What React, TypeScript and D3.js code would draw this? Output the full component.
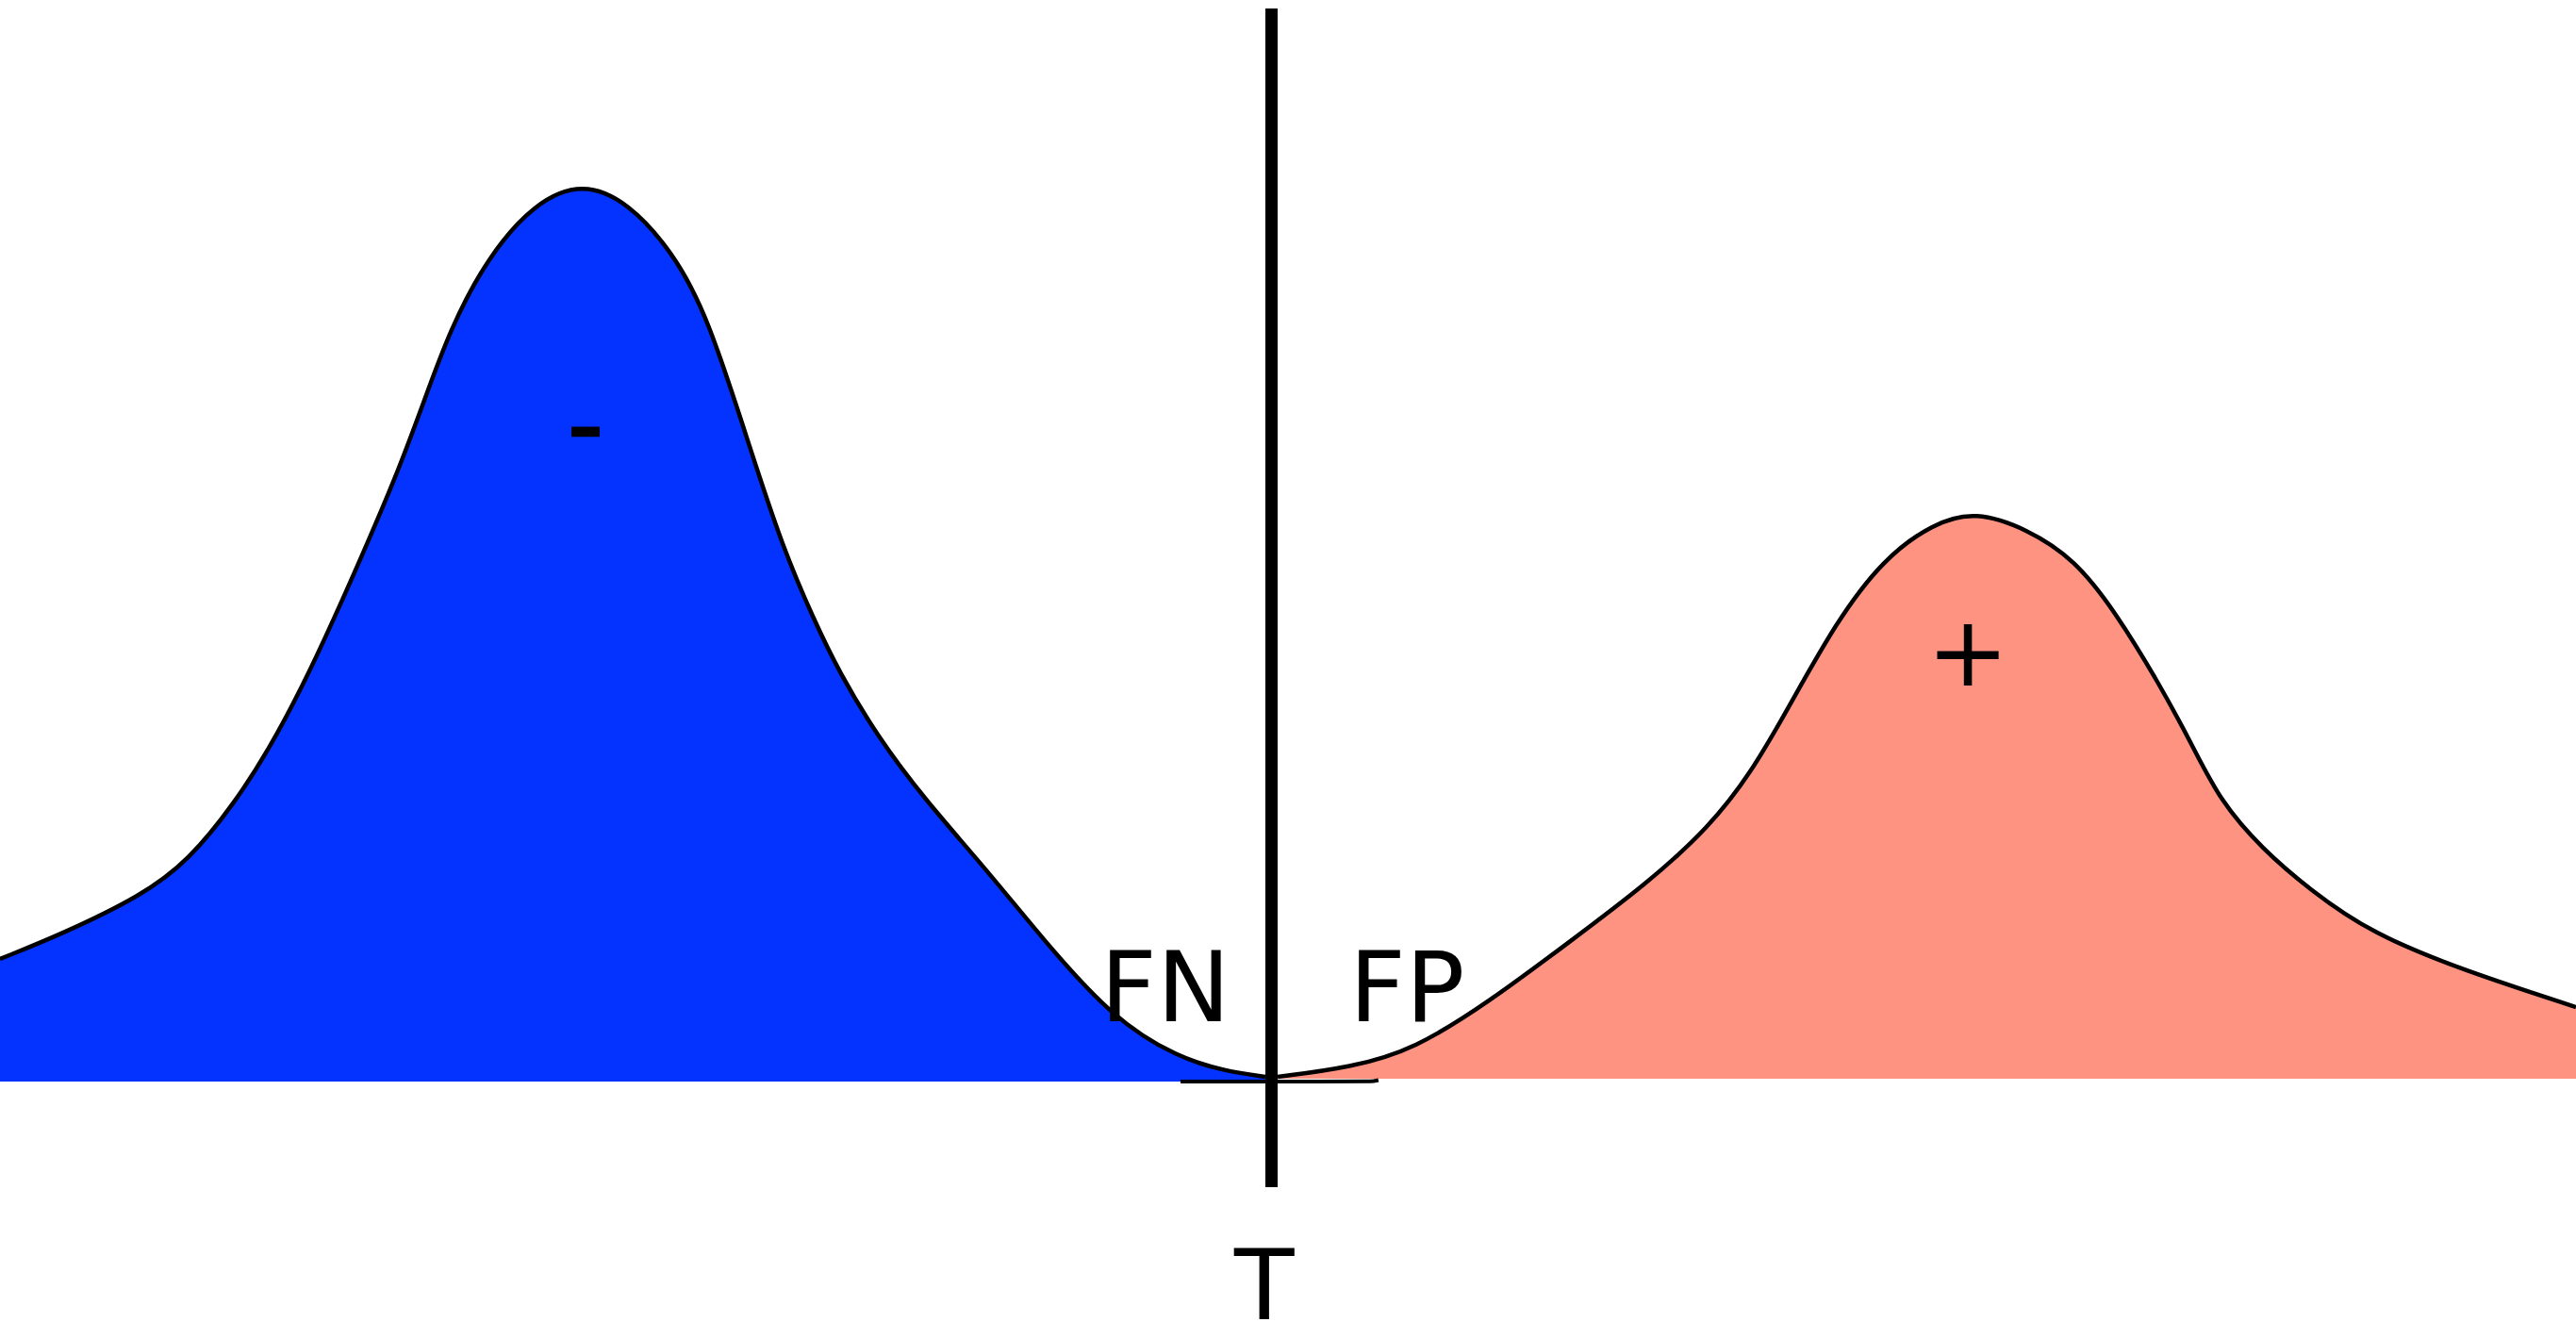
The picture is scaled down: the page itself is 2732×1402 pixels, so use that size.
import React from "react";
import * as d3 from "d3";

// Score axis: 0..100 across the page, density axis: 0 at the baseline.
const negScore = [0, 2.45, 5.49, 7.32, 9.15, 10.43, 11.71, 12.99, 14.28, 15.45, 16.47, 17.46, 18.92, 20.75, 22.62, 24.41, 26.1, 27.45, 29.17, 30.38, 31.59, 32.58, 34.04, 35.87, 38.32, 40.45, 43.19, 45.75, 47.58, 49.12];
const negDensity = [13.0, 15.7, 19.7, 23.4, 29.7, 35.2, 41.7, 49.2, 57.2, 64.7, 72.2, 79.7, 87.4, 93.2, 95.4, 93.2, 88.0, 81.4, 66.7, 56.7, 49.0, 43.4, 36.7, 30.0, 22.4, 15.2, 6.7, 2.5, 1.1, 0.5];

const posScore = [49.6, 52.45, 54.9, 57.83, 60.87, 63.94, 66.36, 67.97, 69.44, 71.27, 73.1, 75.04, 76.68, 78.7, 80.53, 82.1, 83.82, 85.1, 86.2, 87.81, 89.64, 92.06, 95.72, 100];
const posDensity = [0.5, 1.5, 3.4, 8.5, 14.7, 21.0, 27.0, 32.7, 39.7, 48.7, 55.4, 59.2, 60.5, 58.6, 55.4, 49.9, 42.2, 35.7, 29.7, 24.7, 20.4, 15.7, 11.7, 7.9];

const threshold = 49.36;
const thresholdSpan = [-11.2, 113.8];
const bridgeScore = [45.83, 49.36, 53.2, 53.51];
const bridgeDensity = [0, 0, 0.02, 0.15];
const posBase = 0.3;

const labels = [
  { text: "-", x: 22.73, y: 66.1, size: 104, anchor: "middle", weight: 2.5 },
  { text: "+", x: 76.39, y: 42.0, size: 104, anchor: "middle", weight: 0 },
  { text: "FN", x: 42.72, y: 6.4, size: 104, anchor: "start", weight: 0 },
  { text: "FP", x: 52.38, y: 6.4, size: 104, anchor: "start", weight: 0 },
  { text: "T", x: 49.08, y: -25.2, size: 104, anchor: "middle", weight: 0 },
];

const W = 2732;
const H = 1402;

export default function App() {
  const x = d3.scaleLinear().domain([0, 100]).range([0, W]);
  const y = d3.scaleLinear().domain([0, 100]).range([1147, 147]);

  const neg = negScore.map((s, i) => [s, negDensity[i]] as [number, number]);
  const pos = posScore.map((s, i) => [s, posDensity[i]] as [number, number]);
  const bridge = bridgeScore.map((s, i) => [s, bridgeDensity[i]] as [number, number]);

  const curve = d3.curveBasis;
  const line = d3.line<[number, number]>().x((d) => x(d[0])).y((d) => y(d[1])).curve(curve);
  const negArea = d3.area<[number, number]>().x((d) => x(d[0])).y0(y(0)).y1((d) => y(d[1])).curve(curve);
  const posArea = d3.area<[number, number]>().x((d) => x(d[0])).y0(y(posBase)).y1((d) => y(d[1])).curve(curve);
  const bridgeLine = d3.line<[number, number]>().x((d) => x(d[0])).y((d) => y(d[1])).curve(d3.curveMonotoneX);

  return (
    <svg
      width={W}
      height={H}
      style={{ position: "absolute", left: 0, top: 0, background: "#ffffff" }}
      fontFamily="'DejaVu Sans', sans-serif"
    >
      <rect x={0} y={0} width={W} height={H} fill="#ffffff" />
      <path d={negArea(neg) || ""} fill="#0433FF" />
      <path d={posArea(pos) || ""} fill="#FF9382" />
      <path d={line(neg) || ""} fill="none" stroke="#000" strokeWidth={4.5} strokeLinejoin="round" />
      <path d={line(pos) || ""} fill="none" stroke="#000" strokeWidth={4.5} strokeLinejoin="round" />
      <path d={bridgeLine(bridge) || ""} fill="none" stroke="#000" strokeWidth={4} />
      <line
        x1={x(threshold)}
        x2={x(threshold)}
        y1={y(thresholdSpan[1])}
        y2={y(thresholdSpan[0])}
        stroke="#000"
        strokeWidth={13}
      />
      {labels.map((l) => (
        <text
          key={l.text}
          x={x(l.x)}
          y={y(l.y)}
          fontSize={l.size}
          textAnchor={l.anchor}
          fill="#000"
          stroke={l.weight ? "#000" : "none"}
          strokeWidth={l.weight}
        >
          {l.text}
        </text>
      ))}
    </svg>
  );
}
